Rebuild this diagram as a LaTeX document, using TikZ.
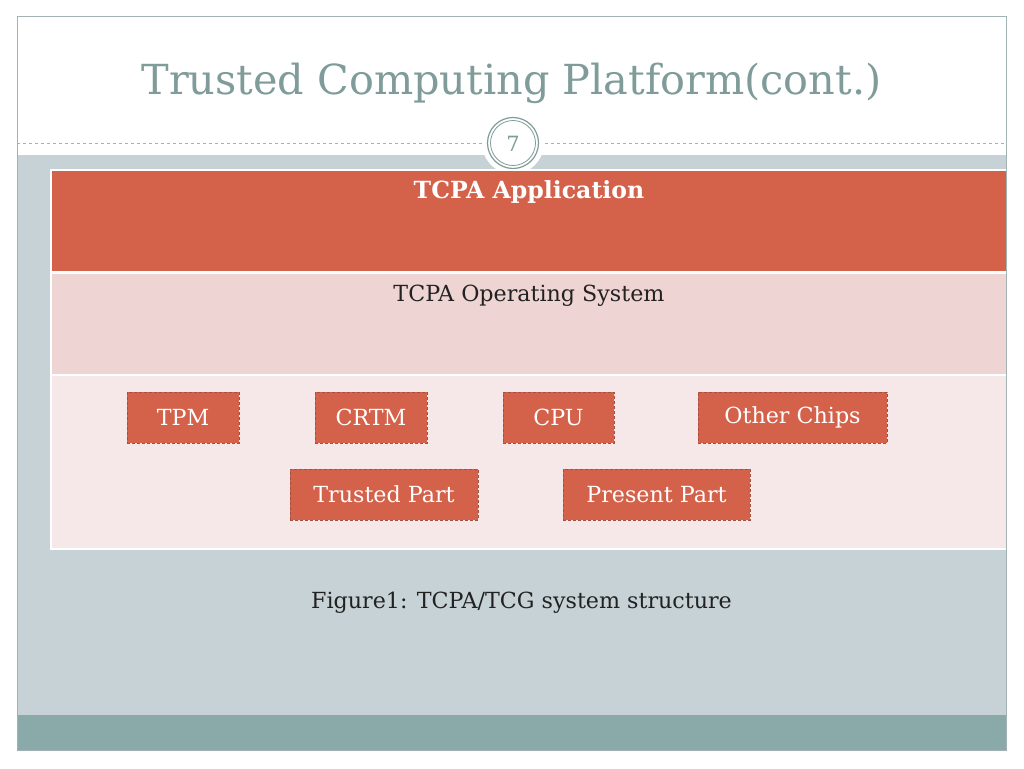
\documentclass[tikz,border=0pt]{standalone}
\usepackage{fontspec}
\setmainfont{DejaVu Serif}
\definecolor{frame}{HTML}{A3B3B3}
\definecolor{titlec}{HTML}{7F9C9A}
\definecolor{bandc}{HTML}{C6D2D6}
\definecolor{barc}{HTML}{8AAAA9}
\definecolor{redc}{HTML}{D4614A}
\definecolor{rowtwo}{HTML}{EED4D3}
\definecolor{rowthree}{HTML}{F6E8E8}
\definecolor{textdark}{HTML}{222222}
\definecolor{dashc}{HTML}{A35040}
\tikzset{
  chip/.style={draw=dashc, densely dashed, line width=0.6pt, fill=redc, text=white, minimum height=51pt, inner sep=0pt, font=\fontsize{22.2}{26}\selectfont},
}
\begin{document}
\begin{tikzpicture}[x=1pt,y=-1pt]
\useasboundingbox (0,0) rectangle (1024,768);
\fill[white] (0,0) rectangle (1024,768);
% band and bar
\fill[bandc] (17,155) rectangle (1006,715);
\fill[barc] (17,715) rectangle (1006,750);
\draw[frame, line width=1pt] (17,17) rectangle (1006,750);
% dashed line
\draw[frame, dashed, line width=0.8pt] (17,143) -- (1006,143);
% title
\node[text=titlec, font=\fontsize{41.4}{48}\selectfont, anchor=base] (title) at (511.5,94) {Trusted Computing Platform(cont.)};
% page circle
\fill[white] (513,143) circle (31);
\draw[titlec, line width=1.2pt] (513,143) circle (25.5);
\draw[titlec, line width=0.8pt] (513,143) circle (22.5);
\node[text=titlec, font=\fontsize{21}{24}\selectfont] (pnum) at (513,144) {7};
% table
\fill[white] (50,169) rectangle (1006,550);
\fill[redc] (52,171) rectangle (1006,271);
\fill[rowtwo] (52,274) rectangle (1006,374);
\fill[rowthree] (52,376) rectangle (1006,548);
\node[text=white, font=\bfseries\fontsize{23.6}{28}\selectfont] (app) at (529,192) {TCPA Application};
\node[text=textdark, font=\fontsize{22.2}{26}\selectfont] (os) at (529,296) {TCPA Operating System};
% chips
\node[chip, minimum width=112pt] (tpm) at (183,417.5) {TPM};
\node[chip, minimum width=112pt] (crtm) at (371,417.5) {CRTM};
\node[chip, minimum width=111pt] (cpu) at (558.5,417.5) {CPU};
\node[chip, minimum width=189pt] (other) at (792.5,417.5) {Other Chips};
\node[chip, minimum width=188pt] (trusted) at (384,494.5) {Trusted Part};
\node[chip, minimum width=187pt] (present) at (656.5,494.5) {Present Part};
% caption
\node[text=textdark, font=\fontsize{22.2}{26}\selectfont] (cap) at (521.5,603) {Figure1: TCPA/TCG system structure};
\end{tikzpicture}
\end{document}
